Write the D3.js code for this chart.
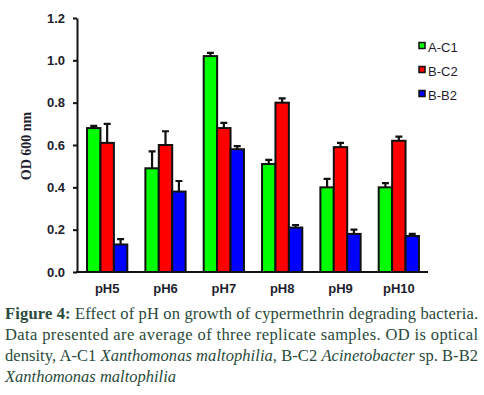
<!DOCTYPE html>
<html>
<head>
<meta charset="utf-8">
<script src="https://cdn.jsdelivr.net/npm/d3@7"></script>
<style>
  body { margin: 0; background: #fff; }
  svg { display: block; }
</style>
</head>
<body>
<svg id="chart"></svg>
<script>
const categories = ['pH5', 'pH6', 'pH7', 'pH8', 'pH9', 'pH10'];
const seriesNames = ['A-C1', 'B-C2', 'B-B2'];
const seriesColors = ['#00ff00', '#ff0000', '#0000ff'];
const ac1Values = [0.68, 0.49, 1.02, 0.51, 0.40, 0.40];
const ac1Errors = [0.01, 0.08, 0.015, 0.02, 0.04, 0.02];
const bc2Values = [0.61, 0.60, 0.68, 0.80, 0.59, 0.62];
const bc2Errors = [0.09, 0.065, 0.025, 0.02, 0.02, 0.02];
const bb2Values = [0.13, 0.38, 0.58, 0.21, 0.18, 0.17];
const bb2Errors = [0.025, 0.05, 0.015, 0.012, 0.02, 0.01];
const yTicks = [0, 0.2, 0.4, 0.6, 0.8, 1.0, 1.2];

const values = [ac1Values, bc2Values, bb2Values];
const errors = [ac1Errors, bc2Errors, bb2Errors];

const data = categories.map((c, i) => ({
  category: c,
  bars: seriesNames.map((s, j) => ({ series: s, color: seriesColors[j], value: values[j][i], err: errors[j][i] })),
}));

const width = 484;
const height = 395;
const svg = d3.select('#chart').attr('width', width).attr('height', height);

const x = d3.scaleBand().domain(categories).range([78, 428]).paddingInner(0.31).paddingOuter(0.155);
const xs = d3.scaleBand().domain(seriesNames).range([0, x.bandwidth()]);
const y = d3.scaleLinear().domain([0, 1.2]).range([272, 18]);

const ink = '#1e1e2e';

// y axis
const yAxis = svg.append('g')
  .attr('transform', 'translate(77,0)')
  .call(d3.axisLeft(y).tickValues(yTicks).tickFormat(d3.format('.1f')).tickSize(4).tickSizeOuter(0));
yAxis.select('.domain').attr('stroke', '#111').attr('stroke-width', 2);
yAxis.selectAll('.tick line').attr('stroke', '#111').attr('stroke-width', 2);
yAxis.selectAll('.tick text')
  .attr('x', -12)
  .style('font-family', 'Liberation Sans, Arial, sans-serif')
  .style('font-size', '13px')
  .style('font-weight', 'bold')
  .attr('fill', ink);

// bars
const groups = svg.selectAll('.grp')
  .data(data)
  .enter()
  .append('g')
  .attr('class', 'grp')
  .attr('transform', (d) => `translate(${x(d.category)},0)`);

// error bars (upward only)
groups.selectAll('.err')
  .data((d) => d.bars)
  .enter()
  .append('path')
  .attr('d', (b) => {
    const cx = xs(b.series) + xs.bandwidth() / 2;
    const top = y(b.value + b.err);
    return `M${cx},${y(b.value)}V${top}M${cx - 3.5},${top}H${cx + 3.5}`;
  })
  .attr('stroke', '#111')
  .attr('stroke-width', 2.2)
  .attr('fill', 'none');

groups.selectAll('rect')
  .data((d) => d.bars)
  .enter()
  .append('rect')
  .attr('x', (b) => xs(b.series))
  .attr('y', (b) => y(b.value))
  .attr('width', xs.bandwidth())
  .attr('height', (b) => y(0) - y(b.value))
  .attr('fill', (b) => b.color)
  .attr('stroke', '#111')
  .attr('stroke-width', 2);

// x axis
const xAxis = svg.append('g')
  .attr('transform', 'translate(0,272)')
  .call(d3.axisBottom(x).tickSize(0).tickSizeOuter(0));
xAxis.select('.domain').attr('stroke', '#111').attr('stroke-width', 2).attr('d', 'M76,0H428');
xAxis.selectAll('.tick text')
  .attr('y', 12)
  .style('font-family', 'Liberation Sans, Arial, sans-serif')
  .style('font-size', '13px')
  .style('font-weight', 'bold')
  .attr('fill', ink);

// y label
svg.append('text')
  .attr('transform', 'translate(31,146) rotate(-90)')
  .attr('text-anchor', 'middle')
  .style('font-family', 'Liberation Serif, Times New Roman, serif')
  .style('font-size', '14px')
  .style('font-weight', 'bold')
  .attr('fill', ink)
  .text('OD 600 nm');

// legend
const legend = svg.append('g').attr('transform', 'translate(418,0)');
seriesNames.forEach((s, i) => {
  const base = 52 + i * 24;
  legend.append('rect')
    .attr('x', 1).attr('y', base - 9.5)
    .attr('width', 6).attr('height', 6)
    .attr('fill', seriesColors[i])
    .attr('stroke', '#111').attr('stroke-width', 1.5);
  legend.append('text')
    .attr('x', 10).attr('y', base)
    .style('font-family', 'Liberation Sans, Arial, sans-serif')
    .style('font-size', '13px')
    .attr('fill', ink)
    .text(s);
});

// caption
const capColor = '#2a4a3b';
const caption = svg.append('g')
  .style('font-family', 'Liberation Serif, Times New Roman, serif')
  .style('font-size', '16.5px')
  .attr('fill', capColor);

const captionLines = [
  [{ t: 'Figure 4:', b: true }, { t: ' Effect of pH on growth of cypermethrin degrading bacteria.' }],
  [{ t: 'Data presented are average of three replicate samples. OD is optical' }],
  [{ t: 'density, A-C1 ' }, { t: 'Xanthomonas maltophilia', i: true }, { t: ', B-C2 ' }, { t: 'Acinetobacter', i: true }, { t: ' sp. B-B2' }],
  [{ t: 'Xanthomonas maltophilia', i: true }],
];
captionLines.forEach((parts, k) => {
  const t = caption.append('text')
    .attr('x', 5)
    .attr('y', 319 + k * 21);
  if (k < 3) t.attr('textLength', 473).attr('lengthAdjust', 'spacing');
  parts.forEach((p) => {
    t.append('tspan')
      .style('font-weight', p.b ? 'bold' : null)
      .style('font-style', p.i ? 'italic' : null)
      .text(p.t);
  });
});
</script>
</body>
</html>
